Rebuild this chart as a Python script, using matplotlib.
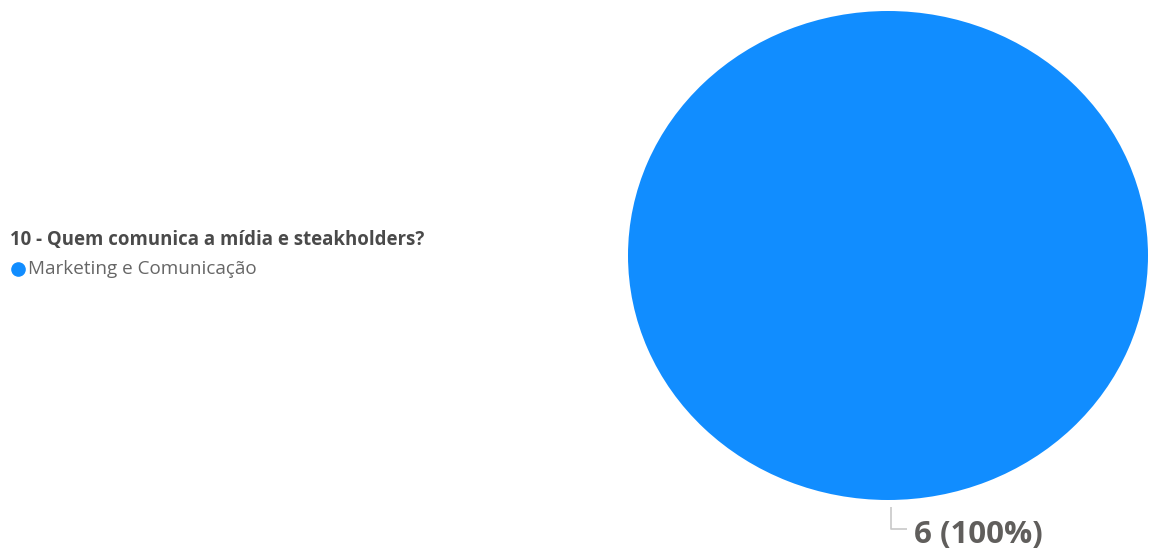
import matplotlib
matplotlib.use("Agg")
import matplotlib.pyplot as plt
import numpy as np

# Survey answers for question 10
question = "10 - Quem comunica a mídia e steakholders?"
categories = ["Marketing e Comunicação"]
counts = [6]
colors = ["#118DFF"]

W, H = 1150, 551
fig = plt.figure(figsize=(W / 100, H / 100), dpi=100)
fig.patch.set_facecolor("white")


def px(x, y):
    """Pixel position (from top-left) to figure fraction."""
    return x / W, 1 - y / H


# Pie area (Power BI stretches the pie to its visual box)
left, top, right, bottom = 628, 11, 1148, 500
ax = fig.add_axes([left / W, 1 - bottom / H, (right - left) / W, (bottom - top) / H])
wedges, _ = ax.pie(counts, colors=colors, startangle=90, counterclock=False,
                   radius=1.0, wedgeprops=dict(linewidth=0))
ax.set_aspect("auto")
ax.set_xlim(-1, 1)
ax.set_ylim(-1, 1)
ax.axis("off")

# Data label with leader line at the middle of each slice
total = sum(counts)
for w, c in zip(wedges, counts):
    mid = np.deg2rad((w.theta1 + w.theta2) / 2)
    x0, y0 = np.cos(mid) * 1.03 + 0.012, np.sin(mid) * 1.03
    y1 = -1.12
    ax.plot([x0, x0, x0 + 0.06], [y0, y1, y1], color="#C8C8C8", lw=1.2,
            clip_on=False, solid_capstyle="butt")
    ax.text(x0 + 0.088, y1 - 0.025, f"{c} ({c / total:.0%})", ha="left",
            va="center", fontsize=22.5, fontweight="bold", color="#605E5C",
            family="Open Sans", clip_on=False)

# Legend block on the left
fig.text(*px(10, 240), question, ha="left", va="center", fontsize=13.4,
         fontweight="bold", color="#4A4A4A", family="Open Sans")
for i, (cat, col) in enumerate(zip(categories, colors)):
    yy = 269 + i * 22
    fig.text(*px(28, yy), cat, ha="left", va="center", fontsize=13.6,
             color="#666666", family="Open Sans")
    fig.add_artist(plt.Line2D([18 / W], [1 - yy / H], marker="o", markersize=9.5,
                              color=col, linestyle="none"))

fig.savefig("out.png", dpi=100, facecolor="white")
